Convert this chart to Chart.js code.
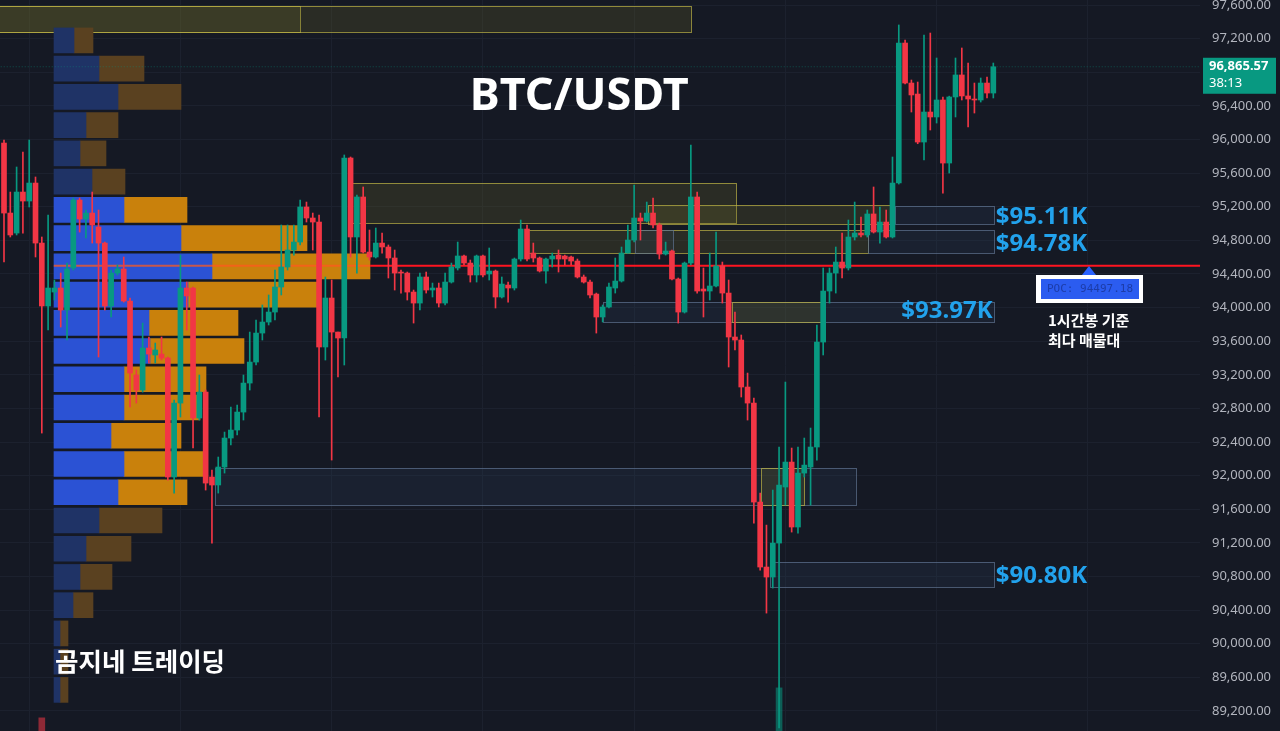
<!DOCTYPE html>
<html>
<head>
<meta charset="utf-8">
<script src="https://cdn.jsdelivr.net/npm/chart.js@4.4.1/dist/chart.umd.min.js"></script>
<style>
  html, body { margin: 0; padding: 0; background: #151924; }
  canvas { display: block; }
</style>
</head>
<body>
<canvas id="btcChart" width="1280" height="731"></canvas>
<script>
// 1h candles (index 0 = leftmost candle)
const opens = [
  95958, 95125, 94887, 95375, 95268, 95482, 94768, 94019, 94185, 94233,
  93971, 94471, 95280, 95054, 95125, 94959, 94768, 94019, 94411, 94459,
  94078, 93198, 93019, 93519, 93436, 93447, 93400, 91984, 92864, 94233,
  94233, 92686, 92995, 91984, 91889, 92103, 92448, 92543, 92757, 93102,
  93352, 93697, 93828, 93947, 94245, 94483, 94685, 94780, 95197, 95066,
  95018, 93531, 94114, 93709, 93638, 95780, 94840, 95316, 94661, 94602,
  94768, 94721, 94590, 94423, 94411, 94185, 94054, 94364, 94209, 94233,
  94054, 94304, 94471, 94614, 94530, 94388, 94614, 94400, 94435, 94126,
  94268, 94233, 94578, 94935, 94649, 94590, 94435, 94578, 94625, 94614,
  94602, 94554, 94364, 94304, 94161, 93888, 94007, 94233, 94316, 94649,
  94804, 95066, 95030, 95125, 94983, 94637, 94673, 94340, 93947, 94530,
  95316, 94221, 94197, 94257, 94495, 94173, 93650, 93614, 93055, 92864,
  91686, 90913, 90794, 91198, 91865, 92162, 91389, 92031, 92103, 92341,
  93590, 94197, 94411, 94542, 94471, 94840, 94887, 94864, 95114, 94899,
  95018, 94840, 95482, 97148, 96672, 96541, 95970, 96327, 96268, 96470,
  95720, 96506, 96768, 96518, 96482, 96470, 96672, 96553
];
const highs = [
  95994, 95375, 95673, 95851, 95994, 95554, 94840, 95102, 94328, 94411,
  94530, 95304, 95304, 95161, 95375, 95161, 94780, 94447, 94507, 94602,
  94114, 93257, 93816, 93650, 93578, 93650, 93412, 92900, 94625, 94304,
  94245, 93198, 93019, 92067, 92222, 92519, 92817, 92840, 93198, 93709,
  93852, 94031, 94150, 94447, 94983, 94983, 94983, 95280, 95256, 95125,
  95102, 94364, 94328, 93709, 95816, 95792, 95340, 95435, 94923, 94947,
  94887, 94745, 94685, 94447, 94423, 94209, 94411, 94423, 94292, 94292,
  94411, 94530, 94780, 94625, 94566, 94625, 94625, 94709, 94447, 94364,
  94304, 94590, 95042, 94983, 94768, 94602, 94590, 94649, 94685, 94625,
  94614, 94578, 94388, 94328, 94173, 94031, 94292, 94590, 94721, 94983,
  95458, 95125, 95256, 95304, 95006, 94780, 94685, 94352, 94542, 95935,
  95375, 94471, 94649, 94899, 94542, 94328, 93947, 93674, 93221, 92924,
  91793, 91412, 91829, 92341, 93114, 92329, 92341, 92448, 92567, 93792,
  94471, 94471, 94721, 94887, 95042, 95256, 95078, 95161, 95435, 95197,
  95161, 95792, 97363, 97184, 96708, 96684, 97244, 97267, 96970, 96506,
  96516, 96970, 97089, 96910, 96672, 96732, 96744, 96910
];
const lows = [
  94542, 94840, 94864, 94887, 95197, 94602, 92507, 93733, 94090, 93769,
  93614, 94447, 94899, 94828, 94768, 93412, 93971, 93888, 94388, 94066,
  92817, 92864, 92995, 93340, 93340, 93376, 91948, 91793, 92698, 93733,
  92329, 92662, 91829, 91198, 91793, 92031, 92365, 92484, 92662, 93019,
  93317, 93614, 93793, 93852, 94150, 94447, 94625, 94745, 95018, 94685,
  92698, 93376, 92186, 93174, 93317, 94602, 94411, 94649, 94566, 94590,
  94649, 94352, 94209, 94173, 94090, 93816, 93971, 94173, 94126, 94007,
  94031, 94292, 94447, 94507, 94304, 94304, 94364, 94328, 93995, 94114,
  94066, 94209, 94554, 94554, 94542, 94423, 94292, 94483, 94423, 94507,
  94507, 94352, 94292, 94114, 93697, 93828, 93995, 94173, 94304, 94649,
  94780, 94804, 95018, 94947, 94578, 94625, 94328, 93816, 93935, 94507,
  94173, 93888, 94090, 94245, 94054, 93293, 93495, 92936, 92662, 91436,
  90877, 90365, 90663, 89000, 91650, 91329, 91317, 91984, 91650, 92186,
  93436, 94054, 94173, 94352, 94447, 94804, 94840, 94840, 94887, 94768,
  94828, 94828, 95470, 96660, 96327, 95950, 95756, 96113, 96196, 95363,
  95601, 96268, 96470, 96149, 96315, 96446, 96494, 96494
];
const closes = [
  95125, 94864, 95375, 95268, 95482, 94768, 94019, 94233, 94233, 93971,
  94459, 95280, 95054, 95125, 94983, 94768, 94019, 94411, 94459, 94078,
  93221, 93019, 93519, 93447, 93495, 93400, 91984, 92864, 94233, 94138,
  92686, 92995, 91912, 91889, 92103, 92448, 92543, 92757, 93102, 93352,
  93697, 93828, 93947, 94245, 94483, 94685, 94780, 95197, 95066, 95018,
  93531, 94114, 93709, 93638, 95780, 94840, 95316, 94661, 94602, 94768,
  94721, 94590, 94411, 94411, 94185, 94054, 94364, 94209, 94233, 94054,
  94304, 94483, 94614, 94530, 94388, 94614, 94388, 94435, 94126, 94280,
  94233, 94578, 94935, 94578, 94590, 94435, 94578, 94614, 94578, 94578,
  94554, 94364, 94304, 94150, 93888, 94007, 94245, 94316, 94649, 94804,
  95066, 95030, 95125, 94983, 94637, 94673, 94340, 93947, 94530, 95316,
  94197, 94197, 94257, 94495, 94173, 93650, 93614, 93055, 92864, 91686,
  90913, 90794, 91198, 91888, 92162, 91389, 92031, 92126, 92341, 93590,
  94197, 94411, 94542, 94471, 94840, 94887, 94864, 95114, 94899, 95018,
  94840, 95482, 97148, 96672, 96530, 95970, 96327, 96268, 96470, 95720,
  96506, 96768, 96518, 96482, 96470, 96672, 96553, 96865.57
];

// bottom volume bars that reach into view
const volIndex = [6, 123];
const volValue = [18, 59];

// volume profile rows, top to bottom
const profilePrice = [97179, 96843, 96507, 96171, 95835, 95499, 95163, 94827, 94491, 94155, 93819, 93483,
                      93147, 92811, 92475, 92139, 91803, 91467, 91131, 90795, 90459, 90123, 89787, 89451];
const profileBuy  = [10, 22.5, 32, 16, 13, 19, 35, 63.5, 79, 67, 47.5, 48, 35, 35, 28.5, 35, 32, 22.5, 16, 13, 9.5, 3, 3, 3];
const profileSell = [9.5, 22.5, 31.5, 16, 13, 16.5, 31.5, 63, 79, 65, 44.5, 47, 41, 38, 35, 40, 34.5, 31.5, 22.5, 16, 10, 4, 4, 4];
const inValueArea = [0, 0, 0, 0, 0, 0, 1, 1, 1, 1, 1, 1, 1, 1, 1, 1, 1, 0, 0, 0, 0, 0, 0, 0];

// zones: candle index range and price range
const zoneFrom = [-1, -1, 55.2, 102.2, 141.4, 83, 100.2, 137.1, 95.1, 115.6, 33.5, 120.2, 121.6];
const zoneTo   = [47, 109, 116.2, 141, 157.1, 137.1, 106.2, 157.1, 157.1, 130.3, 135.2, 127.1, 157.1];
const zoneHigh = [97590, 97590, 95482, 95221, 95210, 94923, 94923, 94923, 94066, 94066, 92091, 92091, 90972];
const zoneLow  = [97280, 97280, 95006, 94994, 94994, 94649, 94649, 94649, 93828, 93828, 91650, 91650, 90675];
const zoneKind = ['y', 'y', 'y', 'y', 'b', 'y', 'b', 'b', 'b', 'y', 'b', 'y', 'b'];

// level labels
const levelText  = ['$95.11K', '$94.78K', '$93.97K', '$90.80K'];
const levelPrice = [95080, 94750, 93955, 90800];
const levelIndex = [157.4, 157.4, 156.9, 157.4];
const levelAlign = ['left', 'left', 'right', 'left'];

const pocPrice = 94497.18;
const lastPrice = 96865.57;
const priceTicks = [89200, 89600, 90000, 90400, 90800, 91200, 91600, 92000, 92400, 92800, 93200, 93600,
                    94000, 94400, 94800, 95200, 95600, 96000, 96400, 96800, 97200, 97600];
const dayTicks = [4, 28, 52, 76, 100, 124, 148, 172];

const UP = '#089981', DOWN = '#f23645';
const candleColors = opens.map((o, i) => closes[i] >= o ? UP : DOWN);

const fmt = v => v.toLocaleString('en-US', {minimumFractionDigits: 2, maximumFractionDigits: 2});

const zonesPlugin = {
  id: 'zones',
  beforeDatasetsDraw(chart) {
    const {ctx, scales: {x, y}} = chart;
    ctx.save();
    zoneFrom.forEach((f, k) => {
      const x1 = x.getPixelForValue(f), x2 = x.getPixelForValue(zoneTo[k]);
      const y1 = y.getPixelForValue(zoneHigh[k]), y2 = y.getPixelForValue(zoneLow[k]);
      if (zoneKind[k] === 'y') {
        ctx.fillStyle = 'rgba(120,115,40,0.22)';
        ctx.strokeStyle = 'rgba(190,180,70,0.7)';
      } else {
        ctx.fillStyle = 'rgba(50,70,105,0.18)';
        ctx.strokeStyle = 'rgba(95,115,145,0.7)';
      }
      ctx.lineWidth = 1;
      ctx.fillRect(x1, y1, x2 - x1, y2 - y1);
      ctx.strokeRect(Math.round(x1) + 0.5, Math.round(y1) + 0.5, Math.round(x2 - x1), Math.round(y2 - y1));
    });
    ctx.restore();
  },
  afterDraw(chart) {
    const {ctx, chartArea, scales: {x, y}} = chart;
    ctx.save();
    ctx.textBaseline = 'middle';

    // title
    ctx.fillStyle = '#ffffff';
    ctx.textAlign = 'center';
    ctx.font = 'bold 45px "Noto Sans", sans-serif';
    ctx.fillText('BTC/USDT', x.getPixelForValue(91.3), y.getPixelForValue(96505));

    // watermark
    ctx.textAlign = 'left';
    ctx.font = 'bold 25.5px "Noto Sans CJK KR", sans-serif';
    ctx.fillText('곰지네 트레이딩', x.getPixelForValue(8.1), y.getPixelForValue(89794));

    // level labels
    ctx.fillStyle = '#22a2ec';
    ctx.font = 'bold 24px "Noto Sans", sans-serif';
    levelText.forEach((t, k) => {
      ctx.textAlign = levelAlign[k];
      ctx.fillText(t, x.getPixelForValue(levelIndex[k]), y.getPixelForValue(levelPrice[k]));
    });

    // POC tag
    const px = Math.round(x.getPixelForValue(172.2));
    const py = Math.round(y.getPixelForValue(pocPrice));
    ctx.fillStyle = '#2962ff';
    ctx.beginPath();
    ctx.moveTo(px, py);
    ctx.lineTo(px + 7, py + 9);
    ctx.lineTo(px - 7, py + 9);
    ctx.closePath();
    ctx.fill();
    ctx.fillStyle = '#ffffff';
    ctx.fillRect(px - 53, py + 9, 107, 28);
    ctx.fillStyle = '#2b5cf0';
    ctx.fillRect(px - 48, py + 13, 98, 20);
    ctx.fillStyle = '#1c3ca8';
    ctx.textAlign = 'center';
    ctx.font = '11px "DejaVu Sans Mono", monospace';
    ctx.fillText('POC: 94497.18', px + 1, py + 23);

    ctx.fillStyle = '#ffffff';
    ctx.textAlign = 'left';
    ctx.font = 'bold 15px "Noto Sans CJK KR", sans-serif';
    ctx.fillText('1시간봉 기준', px - 41, py + 54);
    ctx.fillText('최다 매물대', px - 41, py + 74);

    // last price tag on the axis
    const ly = y.getPixelForValue(lastPrice);
    ctx.fillStyle = UP;
    ctx.fillRect(chartArea.right + 3, ly - 9, 73, 36);
    ctx.fillStyle = '#ffffff';
    ctx.font = 'bold 13px "Noto Sans", sans-serif';
    ctx.fillText(fmt(lastPrice), chartArea.right + 9, ly);
    ctx.font = '13px "Noto Sans", sans-serif';
    ctx.fillText('38:13', chartArea.right + 9, ly + 17);
    ctx.restore();
  }
};

new Chart('btcChart', {
  type: 'bar',
  data: {
    datasets: [
      {
        label: 'buy profile',
        indexAxis: 'y',
        xAxisID: 'vp',
        yAxisID: 'y',
        data: profilePrice.map((p, k) => ({y: p, x: [0, profileBuy[k]]})),
        backgroundColor: inValueArea.map(v => v ? '#2b52d4' : '#1f3366'),
        barThickness: 25,
        grouped: false,
        order: 10
      },
      {
        label: 'sell profile',
        indexAxis: 'y',
        xAxisID: 'vp',
        yAxisID: 'y',
        data: profilePrice.map((p, k) => ({y: p, x: [profileBuy[k], profileBuy[k] + profileSell[k]]})),
        backgroundColor: inValueArea.map(v => v ? '#c9810c' : '#5a4120'),
        barThickness: 25,
        grouped: false,
        order: 10
      },
      {
        label: 'volume',
        xAxisID: 'x',
        yAxisID: 'vol',
        data: volIndex.map((i, k) => ({x: i, y: volValue[k]})),
        backgroundColor: volIndex.map(i => candleColors[i] === UP ? 'rgba(8,153,129,0.55)' : 'rgba(242,54,69,0.55)'),
        barThickness: 6,
        grouped: false,
        order: 9
      },
      {
        type: 'line',
        label: 'last',
        xAxisID: 'x',
        yAxisID: 'y',
        data: [{x: -1, y: lastPrice}, {x: 190, y: lastPrice}],
        borderColor: 'rgba(8,153,129,0.45)',
        borderWidth: 1,
        borderDash: [1, 2],
        pointRadius: 0,
        order: 8
      },
      {
        type: 'line',
        label: 'poc in profile',
        xAxisID: 'x',
        yAxisID: 'y',
        data: [{x: 7.9, y: pocPrice}, {x: 58.1, y: pocPrice}],
        borderColor: 'rgba(255,90,30,0.75)',
        borderWidth: 2,
        pointRadius: 0,
        order: 7
      },
      {
        type: 'line',
        label: 'poc',
        xAxisID: 'x',
        yAxisID: 'y',
        data: [{x: 58.1, y: pocPrice}, {x: 190, y: pocPrice}],
        borderColor: '#ff1420',
        borderWidth: 2,
        pointRadius: 0,
        order: 7
      },
      {
        label: 'wicks',
        xAxisID: 'x',
        yAxisID: 'y',
        data: lows.map((l, i) => ({x: i, y: [l, highs[i]]})),
        backgroundColor: candleColors,
        barThickness: 1,
        grouped: false,
        order: 2
      },
      {
        label: 'bodies',
        xAxisID: 'x',
        yAxisID: 'y',
        data: opens.map((o, i) => ({x: i, y: [o, closes[i]]})),
        backgroundColor: candleColors,
        barThickness: 5,
        minBarLength: 1,
        grouped: false,
        order: 1
      }
    ]
  },
  options: {
    responsive: false,
    animation: false,
    layout: {padding: 0},
    plugins: {legend: {display: false}, tooltip: {enabled: false}},
    scales: {
      x: {
        type: 'linear',
        min: -0.635,
        max: 189.8,
        offset: false,
        grid: {color: '#1c212e', drawTicks: false, offset: false},
        border: {display: false},
        ticks: {display: false},
        afterBuildTicks: s => { s.ticks = dayTicks.map(v => ({value: v})); },
        afterFit: s => { s.height = 0; s.paddingLeft = 0; s.paddingRight = 0; }
      },
      y: {
        type: 'linear',
        position: 'right',
        min: 88962,
        max: 97660,
        offset: false,
        grid: {color: '#1c212e', drawTicks: false, offset: false},
        border: {display: false},
        afterBuildTicks: s => { s.ticks = priceTicks.map(v => ({value: v})); },
        afterFit: s => { s.width = 80; s.paddingTop = 0; s.paddingBottom = 0; },
        ticks: {
          color: '#b2b5be',
          padding: 12,
          font: {family: '"Noto Sans", sans-serif', size: 13},
          callback: v => fmt(v)
        }
      },
      vp: {
        axis: 'x',
        type: 'linear',
        min: -27,
        max: 573,
        offset: false,
        display: false
      },
      vol: {
        axis: 'y',
        type: 'linear',
        min: 0,
        max: 1000,
        offset: false,
        display: false
      }
    }
  },
  plugins: [zonesPlugin]
});
</script>
</body>
</html>
